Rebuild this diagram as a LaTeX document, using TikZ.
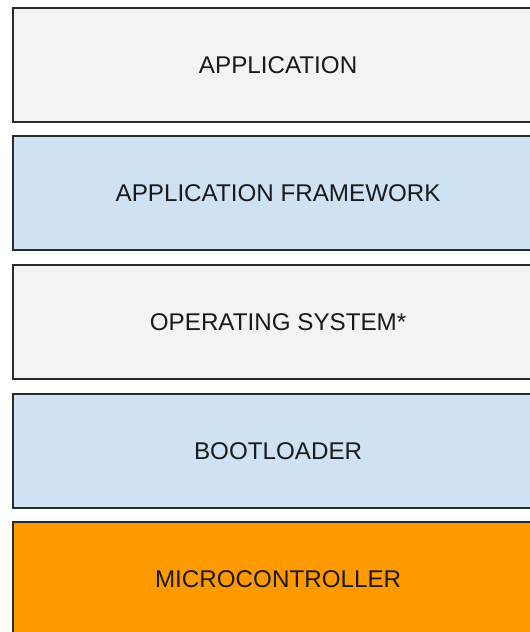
\documentclass[tikz,border=0pt]{standalone}
\usepackage{fontspec}
\setmainfont{Liberation Sans}
\definecolor{graybox}{HTML}{F3F3F3}
\definecolor{bluebox}{HTML}{CFE2F3}
\definecolor{orangebox}{HTML}{FF9900}
\definecolor{edge}{HTML}{2A2A2A}
\definecolor{txt}{HTML}{1A1A1A}
\begin{document}
\begin{tikzpicture}[x=1pt,y=-1pt,
  layer/.style={draw=edge, line width=2.2pt, minimum width=530pt, minimum height=114pt,
    anchor=north west, inner sep=0pt, font=\fontsize{24.2}{29}\selectfont, text=txt}]
\useasboundingbox (0,0) rectangle (530,632);
\clip (0,0) rectangle (530,632);
\fill[white] (0,0) rectangle (530,632);
\node[layer, fill=graybox] (app) at (12,7) {APPLICATION};
\node[layer, fill=bluebox] (fw) at (12,135) {APPLICATION FRAMEWORK};
\node[layer, fill=graybox] (os) at (12,264) {OPERATING SYSTEM*};
\node[layer, fill=bluebox] (boot) at (12,393) {BOOTLOADER};
\node[layer, fill=orangebox] (mcu) at (12,521) {MICROCONTROLLER};
\end{tikzpicture}
\end{document}
